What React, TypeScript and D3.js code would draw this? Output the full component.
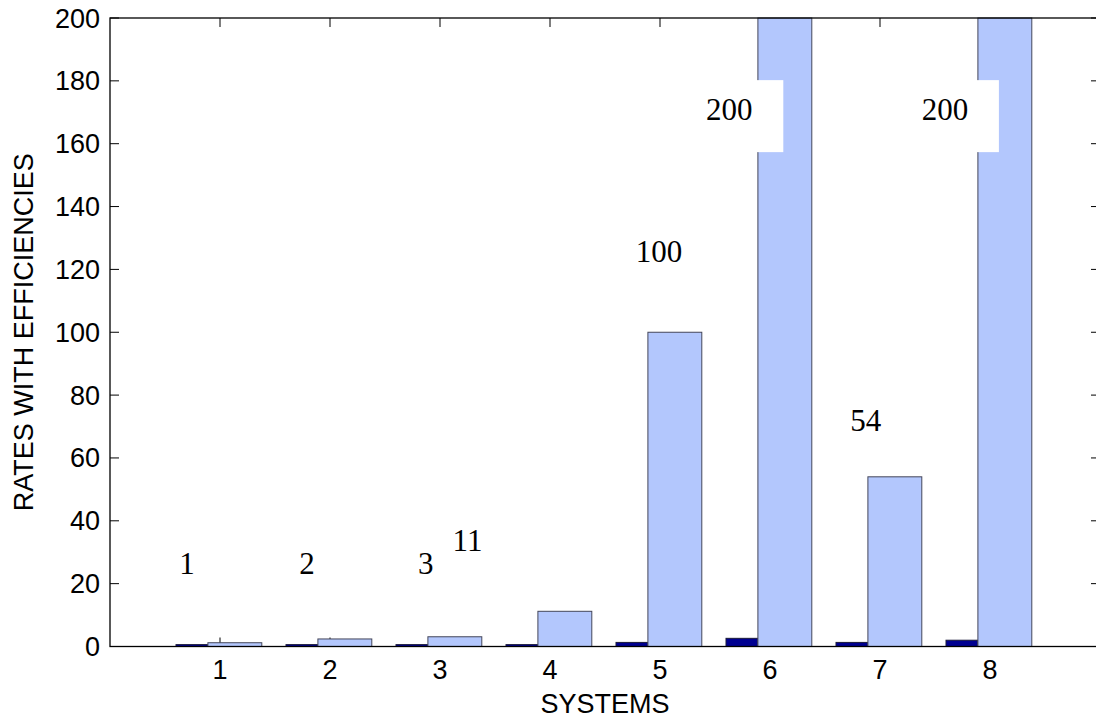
import React from "react";
import * as d3 from "d3";

// data
const systems = [1, 2, 3, 4, 5, 6, 7, 8];
const darkValues = [0.6, 0.6, 0.6, 0.6, 1.3, 2.6, 1.3, 2.0];
const lightValues = [1.2, 2.4, 3.1, 11.2, 100, 200, 54, 200];
const labelTexts = ["1", "2", "3", "11", "100", "200", "54", "200"];
// label anchor (centre x in system units, baseline y in value units)
const labelX = [0.7, 1.79, 2.87, 3.25, 4.99, 5.63, 6.87, 7.59];
const labelY = [23, 23, 23, 30.5, 122.5, 167.5, 68.7, 167.5];
const boxedLabels = [false, false, false, false, false, true, false, true];
const yTicks = [0, 20, 40, 60, 80, 100, 120, 140, 160, 180, 200];

const W = 1096, H = 721;
const margin = { left: 110, right: 1100, top: 18, bottom: 646.5 };

const App = () => {
    const x = d3.scaleLinear().domain([0, 9]).range([margin.left, margin.right]);
    const y = d3.scaleLinear().domain([0, 200]).range([margin.bottom, margin.top]);
    const tickLen = 9;
    const sans = "'Liberation Sans', Arial, sans-serif";
    const serif = "'Liberation Serif', 'Times New Roman', serif";
    const fs = 27;

    return (
        <div style={{ position: "fixed", left: 0, top: 0 }}>
            <svg width={W} height={H} style={{ display: "block", background: "#fff" }}>
                {/* ticks first, bars cover them */}
                <g stroke="#000" strokeWidth={1}>
                    {yTicks.map(t => (
                        <g key={"yt" + t}>
                            <line x1={margin.left} x2={margin.left + tickLen} y1={y(t)} y2={y(t)} />
                            <line x1={margin.right - tickLen} x2={margin.right} y1={y(t)} y2={y(t)} />
                        </g>
                    ))}
                    {systems.map(s => (
                        <g key={"xt" + s}>
                            <line x1={x(s)} x2={x(s)} y1={margin.bottom} y2={margin.bottom - tickLen} />
                            <line x1={x(s)} x2={x(s)} y1={margin.top} y2={margin.top + tickLen} />
                        </g>
                    ))}
                </g>

                {/* bars */}
                {systems.map((s, i) => (
                    <g key={"bar" + s}>
                        <rect x={x(s - 0.4)} width={x(s - 0.11) - x(s - 0.4)}
                            y={y(darkValues[i])} height={y(0) - y(darkValues[i])}
                            fill="#000090" stroke="#1a1a3a" strokeWidth={1} />
                        <rect x={x(s - 0.11)} width={x(s + 0.38) - x(s - 0.11)}
                            y={y(lightValues[i])} height={y(0) - y(lightValues[i])}
                            fill="#b3c7fd" stroke="#44465a" strokeWidth={1} />
                    </g>
                ))}

                {/* value labels */}
                {labelTexts.map((t, i) => (
                    <g key={"lab" + i}>
                        {boxedLabels[i] && (
                            <rect x={x(labelX[i]) - 54} y={y(labelY[i]) - 40} width={108} height={72} fill="#fff" />
                        )}
                        <text x={x(labelX[i])} y={y(labelY[i])} textAnchor="middle"
                            fontFamily={serif} fontSize={31} fill="#000">{t}</text>
                    </g>
                ))}

                {/* axes box */}
                <rect x={margin.left} y={margin.top} width={margin.right - margin.left}
                    height={margin.bottom - margin.top} fill="none" stroke="#000" strokeWidth={1.3} />

                {/* tick labels */}
                {yTicks.map(t => (
                    <text key={"yl" + t} x={margin.left - 10} y={y(t) + 9.5} textAnchor="end"
                        fontFamily={sans} fontSize={fs} fill="#000">{t}</text>
                ))}
                {systems.map(s => (
                    <text key={"xl" + s} x={x(s)} y={678.5} textAnchor="middle"
                        fontFamily={sans} fontSize={fs} fill="#000">{s}</text>
                ))}

                <text x={(margin.left + margin.right) / 2} y={713} textAnchor="middle"
                    fontFamily={sans} fontSize={fs} fill="#000">SYSTEMS</text>
                <text transform={`translate(33,${(margin.top + margin.bottom) / 2}) rotate(-90)`}
                    textAnchor="middle" fontFamily={sans} fontSize={fs} fill="#000">RATES WITH EFFICIENCIES</text>
            </svg>
        </div>
    );
};

export default App;
